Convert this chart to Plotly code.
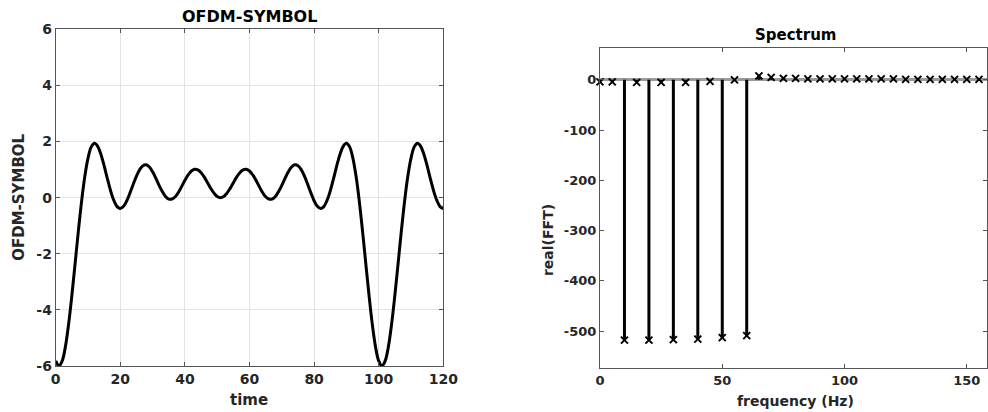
import plotly.graph_objects as go

# ---------------- data ----------------
time = list(range(0, 121))
ofdm_symbol = [
    -5.82,
    -6.00, -5.82, -5.31, -4.50, -3.48, -2.35, -1.20, -0.14, 0.75, 1.41,
    1.81, 1.94, 1.83, 1.54, 1.13, 0.67, 0.24, -0.10, -0.32, -0.39,
    -0.31, -0.11, 0.17, 0.48, 0.77, 1.00, 1.14, 1.17, 1.09, 0.92,
    0.69, 0.44, 0.22, 0.04, -0.05, -0.05, 0.03, 0.19, 0.40, 0.62,
    0.81, 0.95, 1.01, 0.99, 0.89, 0.73, 0.53, 0.33, 0.16, 0.04, 0.00,
    0.04, 0.16, 0.33, 0.53, 0.73, 0.89, 0.99, 1.01, 0.95, 0.81,
    0.62, 0.40, 0.19, 0.03, -0.05, -0.05, 0.04, 0.22, 0.44, 0.69,
    0.92, 1.09, 1.17, 1.14, 1.00, 0.77, 0.48, 0.17, -0.11, -0.31,
    -0.39, -0.32, -0.10, 0.24, 0.67, 1.13, 1.54, 1.83, 1.94, 1.81,
    1.41, 0.75, -0.14, -1.20, -2.35, -3.48, -4.50, -5.31, -5.82, -6.00,
    -5.82, -5.31, -4.50, -3.48, -2.35, -1.20, -0.14, 0.75, 1.41, 1.81,
    1.94, 1.83, 1.54, 1.13, 0.67, 0.24, -0.10, -0.32, -0.39,
]

freq = [0, 5, 10, 15, 20, 25, 30, 35, 40, 45, 50, 55, 60,
        65, 70, 75, 80, 85, 90, 95, 100, 105, 110, 115, 120,
        125, 130, 135, 140, 145, 150, 155, 160]
real_fft = [-4, -4, -518, -5, -518, -5, -517, -5, -516, -3, -513, 0, -509,
            8, 5, 3, 3, 2, 2, 2, 2, 2, 2, 2, 2,
            1, 1, 1, 1, 1, 1, 1, 1]

left_yticks = [-6, -4, -2, 0, 2, 4, 6]
left_xticks = [0, 20, 40, 60, 80, 100, 120]
right_yticks = [-500, -400, -300, -200, -100, 0]
right_xticks = [0, 50, 100, 150]

# stems built from the data
stem_x, stem_y = [], []
for f, v in zip(freq, real_fft):
    stem_x += [f, f, None]
    stem_y += [0, v, None]

FONT = "DejaVu Sans"
TICKC = "#262626"
AXC = "#555555"

fig = go.Figure()

fig.add_trace(go.Scatter(
    x=time, y=ofdm_symbol, mode="lines", line=dict(color="black", width=3, shape="spline"),
    xaxis="x", yaxis="y", showlegend=False, hoverinfo="skip"))

fig.add_trace(go.Scatter(
    x=stem_x, y=stem_y, mode="lines", line=dict(color="black", width=3),
    xaxis="x2", yaxis="y2", showlegend=False, hoverinfo="skip"))
fig.add_trace(go.Scatter(
    x=freq, y=real_fft, mode="markers",
    marker=dict(symbol="x-thin-open", size=7, color="black", line=dict(color="black", width=2)),
    xaxis="x2", yaxis="y2", showlegend=False, cliponaxis=False))

tickfont = dict(family=FONT, size=14, color=TICKC, weight="bold")
tickfont2 = dict(family=FONT, size=13, color=TICKC, weight="bold")

common = dict(automargin=False, showline=True, linecolor=AXC, linewidth=1,
              mirror="allticks", ticks="inside", ticklen=4, tickcolor=AXC)

fig.update_layout(
    template="none",
    width=988, height=412,
    margin=dict(l=0, r=0, t=0, b=0, autoexpand=False),
    paper_bgcolor="white", plot_bgcolor="white",
    xaxis=dict(domain=[0.0564, 0.4487], anchor="y", range=[0, 120],
               tickvals=left_xticks, ticktext=[str(v) for v in left_xticks],
               showgrid=True, gridcolor="#e3e3e3", gridwidth=1, zeroline=False,
               tickfont=tickfont, **common),
    yaxis=dict(domain=[0.1117, 0.9289], anchor="x", range=[-6, 6],
               tickvals=left_yticks, ticktext=[str(v) for v in left_yticks],
               showgrid=True, gridcolor="#e3e3e3", gridwidth=1, zeroline=False,
               tickfont=tickfont, **common),
    xaxis2=dict(domain=[0.6073, 0.9993], anchor="y2", range=[0, 158.4],
                tickvals=right_xticks, ticktext=[str(v) for v in right_xticks],
                showgrid=False, zeroline=False, tickfont=tickfont2, **common),
    yaxis2=dict(domain=[0.1061, 0.8842], anchor="x2", range=[-574, 64],
                tickvals=right_yticks, ticktext=[str(v) for v in right_yticks],
                showgrid=False, zeroline=True, zerolinecolor="#9a9a9a", zerolinewidth=2.5,
                tickfont=tickfont2, **common),
    annotations=[
        dict(text="<b>OFDM-SYMBOL</b>", x=0.2525, y=0.961, xref="paper", yref="paper",
             xanchor="center", yanchor="middle", showarrow=False,
             font=dict(family=FONT, size=16, color="black")),
        dict(text="<b>time</b>", x=0.2525, y=0.0, xref="paper", yref="paper",
             xanchor="center", yanchor="bottom", showarrow=False, yshift=1,
             font=dict(family=FONT, size=15, color=TICKC)),
        dict(text="<b>OFDM-SYMBOL</b>", x=0.0185, y=0.5206, xref="paper", yref="paper",
             xanchor="center", yanchor="middle", showarrow=False, textangle=-90,
             font=dict(family=FONT, size=15, color=TICKC)),
        dict(text="<b>Spectrum</b>", x=0.8047, y=0.915, xref="paper", yref="paper",
             xanchor="center", yanchor="middle", showarrow=False,
             font=dict(family=FONT, size=15, color="black")),
        dict(text="<b>frequency (Hz)</b>", x=0.8047, y=0.0, xref="paper", yref="paper",
             xanchor="center", yanchor="bottom", showarrow=False, yshift=1,
             font=dict(family=FONT, size=14, color=TICKC)),
        dict(text="<b>real(FFT)</b>", x=0.5547, y=0.4175, xref="paper", yref="paper",
             xanchor="center", yanchor="middle", showarrow=False, textangle=-90,
             font=dict(family=FONT, size=14, color=TICKC)),
    ],
)

fig.write_html("out.html")
